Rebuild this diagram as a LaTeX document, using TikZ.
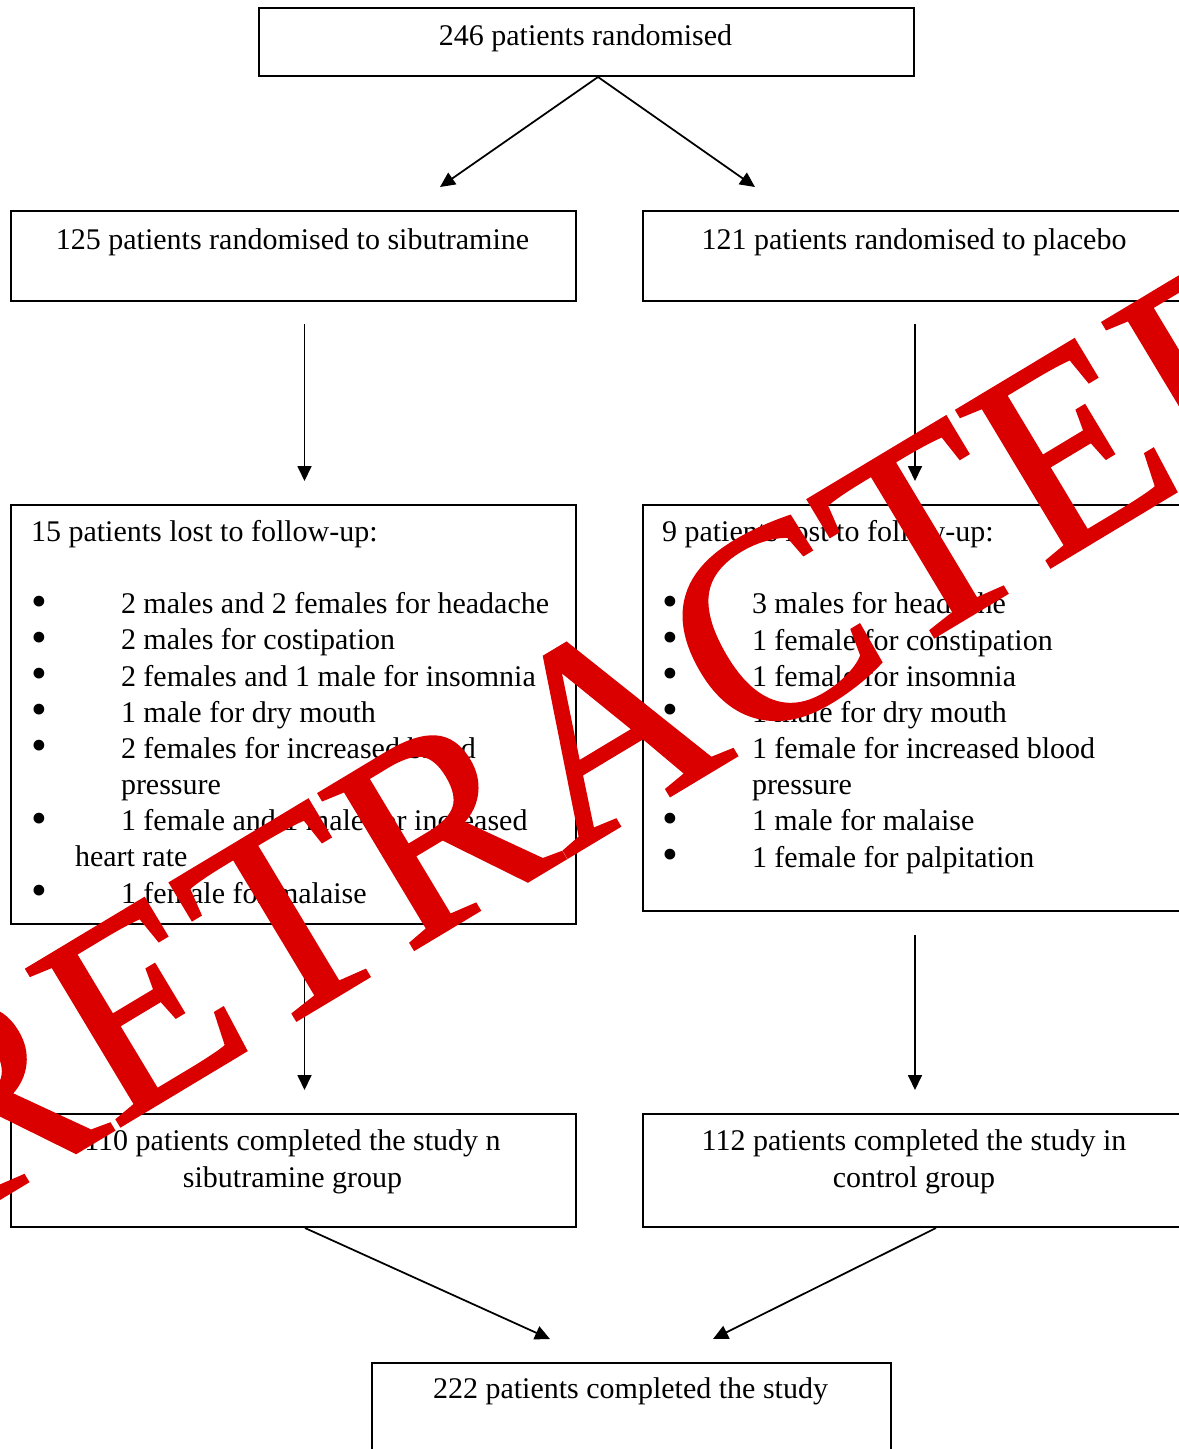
\documentclass[tikz,border=0pt]{standalone}
\usepackage{fontspec}
\setmainfont{Liberation Serif}
\newfontfamily\stampfont[FakeBold=1]{Liberation Serif}
\usepackage{xcolor}
\usepackage{graphicx}
\usetikzlibrary{arrows.meta}
\definecolor{stampred}{HTML}{DA0000}
\newcommand{\lossitem}[1]{\makebox[36pt][l]{\raisebox{-1pt}{\scalebox{1.5}{\textbullet}}}#1}

\begin{document}
\begin{tikzpicture}[x=0.4pt, y=-0.4pt,
  >={Triangle[length=6pt,width=5.6pt]},
  box/.style={draw, line width=0.8pt, anchor=north west, inner sep=0pt},
  txt/.style={inner sep=0pt, font=\fontsize{12pt}{14.46pt}\selectfont},
  arr/.style={->, line width=0.7pt}]
  \useasboundingbox (0,0) rectangle (1179,1449);
  \clip (0,0) rectangle (1179,1449);
  % --- boxes
  \node[box, minimum width=262pt, minimum height=27.2pt]  (rand)  at (258,7)    {};
  \node[box, minimum width=226pt, minimum height=36pt]    (sib)   at (10,210)   {};
  \node[box, minimum width=217.6pt, minimum height=36pt]  (plc)   at (642,210)  {};
  \node[box, minimum width=226pt, minimum height=167.6pt] (lostL) at (10,504)   {};
  \node[box, minimum width=217.6pt, minimum height=162.4pt] (lostR) at (642,504) {};
  \node[box, minimum width=226pt, minimum height=45.2pt]  (doneL) at (10,1113)  {};
  \node[box, minimum width=217.6pt, minimum height=45.2pt] (doneR) at (642,1113) {};
  \node[box, minimum width=207.6pt, minimum height=40pt]  (total) at (371,1362) {};
  % --- texts (base anchor = last line)
  \node[txt, anchor=base] (randT) at (585.5,45) {246 patients randomised};
  \node[txt, anchor=base] (sibT)  at (292.5,249) {125 patients randomised to sibutramine};
  \node[txt, anchor=base] (plcT)  at (914,249)  {121 patients randomised to placebo};
  \node[txt, anchor=base west, align=left] (lostLT) at (30.5,903) {15 patients lost to follow-up:\\[14.46pt]
    \lossitem{2 males and 2 females for headache}\\
    \lossitem{2 males for costipation}\\
    \lossitem{2 females and 1 male for insomnia}\\
    \lossitem{1 male for dry mouth}\\
    \lossitem{2 females for increased blood}\\
    \hspace*{36pt}pressure\\
    \lossitem{1 female and 1 male for increased}\\
    \hspace*{17.6pt}heart rate\\
    \lossitem{1 female for malaise}};
  \node[txt, anchor=base west, align=left] (lostRT) at (661.5,867) {9 patients lost to follow-up:\\[14.46pt]
    \lossitem{3 males for headache}\\
    \lossitem{1 female for constipation}\\
    \lossitem{1 female for insomnia}\\
    \lossitem{1 male for dry mouth}\\
    \lossitem{1 female for increased blood}\\
    \hspace*{36pt}pressure\\
    \lossitem{1 male for malaise}\\
    \lossitem{1 female for palpitation}};
  \node[txt, anchor=base, align=center] (doneLT) at (292.5,1187) {110 patients completed the study n\\sibutramine group};
  \node[txt, anchor=base, align=center] (doneRT) at (914,1187) {112 patients completed the study in\\control group};
  \node[txt, anchor=base] (totalT) at (630.5,1398) {222 patients completed the study};
  % --- arrows
  \coordinate (forkL) at (440,187);
  \coordinate (forkR) at (755,187);
  \coordinate (joinL) at (550,1339);
  \coordinate (joinR) at (713,1339);
  \draw[arr] ([xshift=4.6pt]rand.south) -- (forkL);
  \draw[arr] ([xshift=4.6pt]rand.south) -- (forkR);
  \draw[arr, shorten <=8.8pt, shorten >=9.2pt] ([xshift=4.4pt]sib.south) -- ([xshift=4.4pt]lostL.north);
  \draw[arr, shorten <=8.8pt, shorten >=9.2pt] (plc.south) -- (lostR.north);
  \draw[arr, shorten <=4.8pt, shorten >=9.2pt] ([xshift=4.4pt]lostL.south) -- ([xshift=4.4pt]doneL.north);
  \draw[arr, shorten <=9.2pt, shorten >=9.2pt] (lostR.south) -- (doneR.north);
  \draw[arr] ([xshift=4.6pt]doneL.south) -- (joinL);
  \draw[arr] ([xshift=8.4pt]doneR.south) -- (joinR);
  % --- stamp on top
  \node[inner sep=0pt, anchor=base west, rotate=31, text=stampred,
        font=\stampfont\fontsize{111.6pt}{111.6pt}\selectfont] (stamp) at (-46,1226) {RETRACTED};
\end{tikzpicture}
\end{document}
